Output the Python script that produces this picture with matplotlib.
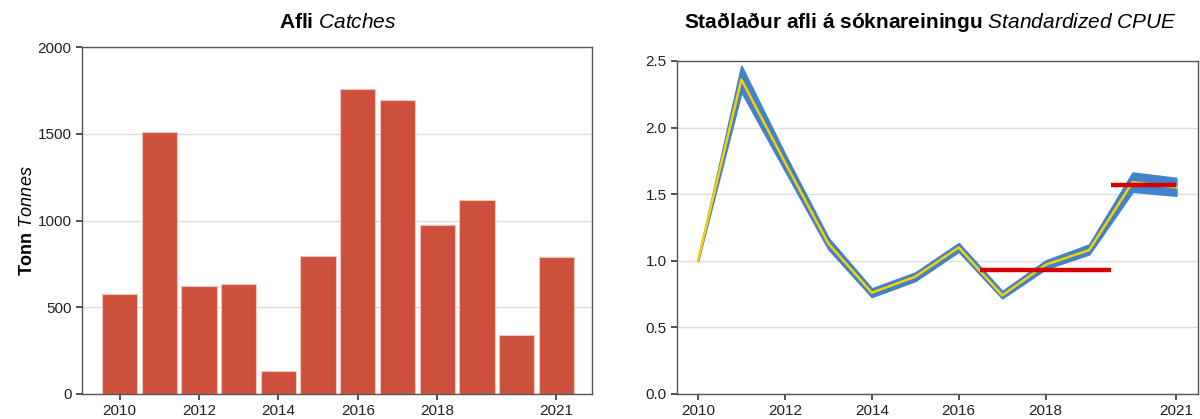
import numpy as np
import matplotlib
matplotlib.use("Agg")
from matplotlib import pyplot as plt

plt.rcParams['font.family'] = ['Liberation Sans', 'DejaVu Sans']
plt.rcParams['mathtext.fontset'] = 'custom'
plt.rcParams['mathtext.rm'] = 'Liberation Sans'
plt.rcParams['mathtext.it'] = 'Liberation Sans:italic'
plt.rcParams['mathtext.bf'] = 'Liberation Sans:bold'

# --- data -------------------------------------------------------------
years = [2010, 2011, 2012, 2013, 2014, 2015, 2016, 2017, 2018, 2019, 2020, 2021]
catches = [575, 1510, 620, 635, 135, 797, 1760, 1695, 972, 1118, 342, 790]

cpue = [1.0, 2.36, 1.74, 1.13, 0.76, 0.88, 1.10, 0.74, 0.97, 1.08, 1.59, 1.55]
cpue_lo = [1.0, 2.27, 1.68, 1.09, 0.73, 0.85, 1.07, 0.72, 0.94, 1.05, 1.52, 1.49]
cpue_hi = [1.0, 2.46, 1.80, 1.17, 0.79, 0.91, 1.13, 0.77, 1.00, 1.12, 1.66, 1.62]

# mean index over reference periods (x range, value)
ref_x = [[2016.5, 2019.5], [2019.5, 2021.0]]
ref_y = [0.93, 1.57]

xtick_years = [2010, 2012, 2014, 2016, 2018, 2021]

bar_col = "#CD503C"
band_col = "#4282C8"
line_col = "#F7D000"
ref_col = "#D40000"
spine_col = "#555555"
grid_col = "#DCDCDC"

fig = plt.figure(figsize=(12, 4.19), dpi=100)

ax1 = fig.add_axes([0.0683, 0.0597, 0.425, 0.828])
ax2 = fig.add_axes([0.5642, 0.0597, 0.434, 0.795])


def style_axis(ax):
    for s in ax.spines.values():
        s.set_color(spine_col)
        s.set_linewidth(1.0)
    ax.tick_params(axis='both', direction='out', length=4, width=1.2,
                   color='#333333', labelcolor='#222222', labelsize=11,
                   top=False, right=False)
    ax.yaxis.grid(True, color=grid_col, linewidth=1.0)
    ax.set_axisbelow(True)


# ------------------------------------------------------------ catches
style_axis(ax1)
ax1.bar(years, catches, width=0.89, color=bar_col,
        edgecolor="#F3C4BC", linewidth=0.8)
ax1.set_xlim(2009.05, 2021.9)
ax1.set_ylim(0, 2000)
ax1.set_yticks([0, 500, 1000, 1500, 2000])
ax1.set_xticks(xtick_years)
ax1.set_ylabel(r"$\mathbf{Tonn}$ $\mathit{Tonnes}$", fontsize=13, labelpad=1)

# --------------------------------------------------------------- cpue
style_axis(ax2)
ax2.fill_between(years, cpue_lo, cpue_hi, color=band_col, linewidth=1.5,
                 edgecolor=band_col)
ax2.plot(years, cpue, color=line_col, linewidth=1.8)
for xr, yv in zip(ref_x, ref_y):
    ax2.plot(xr, [yv, yv], color=ref_col, linewidth=3.2,
             solid_capstyle='butt')
ax2.set_xlim(2009.52, 2021.5)
ax2.set_ylim(0, 2.5)
ax2.set_yticks([0.0, 0.5, 1.0, 1.5, 2.0, 2.5])
ax2.set_yticklabels(["0.0", "0.5", "1.0", "1.5", "2.0", "2.5"])
ax2.set_xticks(xtick_years)

# titles sit on the same line for both panels
fig.text(0.2815, 0.947, r"$\mathbf{Afli}$ $\mathit{Catches}$",
         fontsize=15, ha='center', va='center')
fig.text(0.775, 0.947,
         r"$\mathbf{Staðlaður\ afli\ á\ sóknareiningu}$ $\mathit{Standardized\ CPUE}$",
         fontsize=15, ha='center', va='center')

plt.savefig("out.png", dpi=100)
